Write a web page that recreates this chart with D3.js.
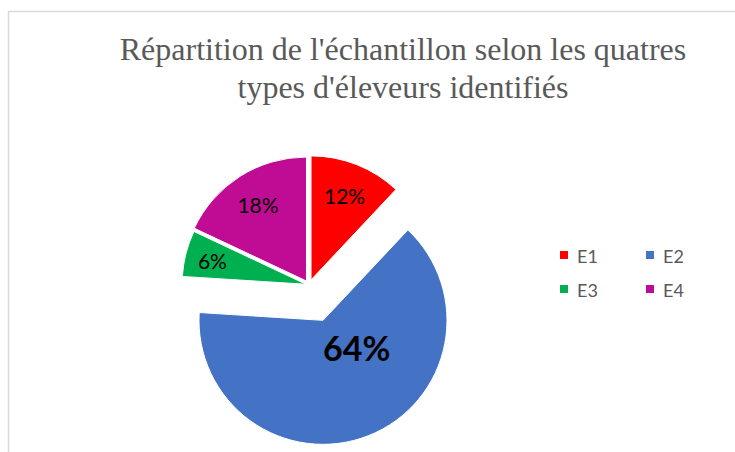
<!DOCTYPE html>
<html>
<head>
<meta charset="utf-8">
<script src="https://cdn.jsdelivr.net/npm/d3@7/dist/d3.min.js"></script>
<style>
  html, body { margin: 0; padding: 0; background: #fff; }
  svg { display: block; }
</style>
</head>
<body>
<svg id="chart" width="735" height="452"></svg>
<script>
// ---- data ----
const categories = ["E1", "E2", "E3", "E4"];
const values = [12, 64, 6, 18];
const labels = ["12%", "64%", "6%", "18%"];
const colors = ["#FF0000", "#4472C4", "#00B050", "#C00C95"];
const titleLines = ["Répartition de l'échantillon selon les quatres", "types d'éleveurs identifiés"];

// ---- layout ----
const cx = 309, cy = 285, R = 124;
const explode = [5.5, 38, 3, 4.7];          // px offset of each slice along its bisector
const labelFrac = [0.735, null, 0.78, 0.73]; // fraction of R along bisector
const bigLabel = { angle: 128.4, dist: 43 }; // E2 label placed relative to its apex

const svg = d3.select("#chart");

// frame
svg.append("rect")
  .attr("x", 8.5).attr("y", 11.5)
  .attr("width", 900).attr("height", 600)
  .attr("fill", "none").attr("stroke", "#D9D9D9").attr("stroke-width", 1.5);

// title
const title = svg.append("text")
  .attr("text-anchor", "middle")
  .attr("font-family", "'Liberation Serif', 'Times New Roman', serif")
  .attr("font-size", 32)
  .attr("fill", "#595959");
titleLines.forEach((t, i) => {
  title.append("tspan").attr("x", 403).attr("y", 59.5 + i * 38).text(t);
});

// pie
const pie = d3.pie().value(d => d).sort(null);
const arcs = pie(values);
const arc = d3.arc().innerRadius(0).outerRadius(R);

const g = svg.append("g").attr("transform", `translate(${cx},${cy})`);

const slices = g.selectAll("g.slice")
  .data(arcs)
  .join("g")
  .attr("class", "slice")
  .attr("transform", (d, i) => {
    const a = (d.startAngle + d.endAngle) / 2;
    return `translate(${Math.sin(a) * explode[i]},${-Math.cos(a) * explode[i]})`;
  });

slices.append("path")
  .attr("d", arc)
  .attr("fill", (d, i) => colors[i])
  .attr("stroke", "#fff")
  .attr("stroke-width", 1);

slices.append("text")
  .attr("text-anchor", "middle")
  .attr("dominant-baseline", "central")
  .attr("font-family", "Lato, 'Open Sans', sans-serif")
  .attr("font-size", (d, i) => i === 1 ? 34 : 21)
  .attr("font-weight", (d, i) => i === 1 ? "bold" : "normal")
  .attr("fill", "#000")
  .attr("x", (d, i) => {
    if (i === 1) return Math.sin(bigLabel.angle * Math.PI / 180) * bigLabel.dist;
    const a = (d.startAngle + d.endAngle) / 2;
    return Math.sin(a) * R * labelFrac[i];
  })
  .attr("y", (d, i) => {
    if (i === 1) return -Math.cos(bigLabel.angle * Math.PI / 180) * bigLabel.dist;
    const a = (d.startAngle + d.endAngle) / 2;
    return -Math.cos(a) * R * labelFrac[i];
  })
  .text((d, i) => labels[i]);

// legend (2 columns)
const legend = svg.append("g");
const items = legend.selectAll("g.item")
  .data(categories)
  .join("g")
  .attr("class", "item")
  .attr("transform", (d, i) => `translate(${560 + (i % 2) * 86},${255 + Math.floor(i / 2) * 34})`);
items.append("rect")
  .attr("x", 0).attr("y", -4).attr("width", 8).attr("height", 8)
  .attr("fill", (d, i) => colors[i]);
items.append("text")
  .attr("x", 17).attr("y", 1)
  .attr("dominant-baseline", "central")
  .attr("font-family", "Lato, 'Open Sans', sans-serif")
  .attr("font-size", 18)
  .attr("fill", "#595959")
  .text(d => d);
</script>
</body>
</html>
